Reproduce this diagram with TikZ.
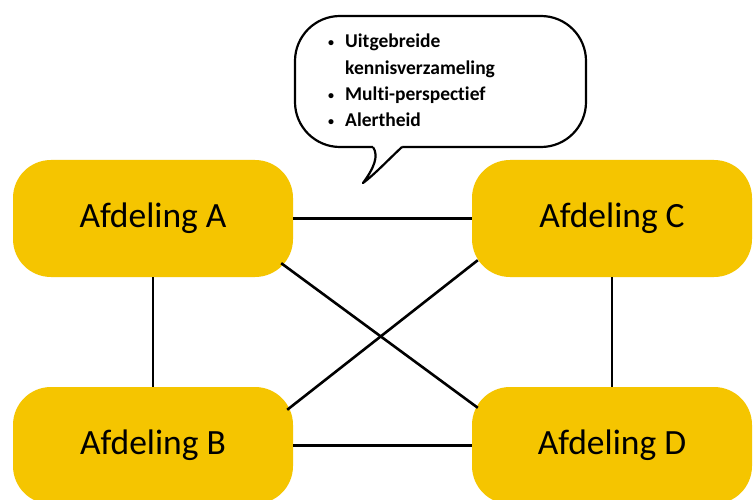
\documentclass[tikz,border=0pt]{standalone}
\usepackage{fontspec}
\setmainfont[Ligatures=CommonOff]{Carlito}
\usetikzlibrary{calc}
\definecolor{deptyellow}{RGB}{245,197,0}
\tikzset{
  dept/.style={rectangle, rounded corners=38pt, fill=deptyellow,
    minimum width=280pt, minimum height=117pt, inner sep=0pt,
    font=\fontsize{35.5pt}{40pt}\selectfont, text=black},
  link/.style={line width=2.6pt, black},
  bubble/.style={line width=2.2pt, black, line join=round},
  bubbletext/.style={font=\fontsize{19.5pt}{23pt}\selectfont\bfseries,
    inner sep=0pt, anchor=base west},
  bullet/.style={font=\fontsize{12pt}{23pt}\selectfont\bfseries,
    inner sep=0pt, anchor=base}
}
\begin{document}
\begin{tikzpicture}[x=1pt, y=-1pt]
  \clip (0,0) rectangle (755,500);
  \fill[white] (0,0) rectangle (755,500);

  % departments
  \node[dept] (A) at (153,218.5) {Afdeling A};
  \node[dept] (B) at (153,445.5) {Afdeling B};
  \node[dept] (C) at (612,218.5) {Afdeling C};
  \node[dept] (D) at (612,445.5) {Afdeling D};

  % links between departments
  \draw[link] (A.east) -- (C.west);
  \draw[link] (B.east) -- (D.west);
  \draw[link] (A.south) -- (B.north);
  \draw[link] (C.south) -- (D.north);
  \coordinate (ad1) at ($(A.south east)+(-12,-14)$);
  \coordinate (ad2) at ($(D.north west)+(6,21)$);
  \coordinate (bc1) at ($(B.north east)+(-6,23)$);
  \coordinate (bc2) at ($(C.south west)+(6,-17)$);
  \draw[link] (ad1) -- (ad2);
  \draw[link] (bc1) -- (bc2);

  % speech bubble: rounded body, then the tail cut into its lower edge
  \draw[bubble, fill=white, rounded corners=45pt] (295,16) rectangle (586,147);
  \fill[white] (373,147) .. controls (379,156) and (374,168) .. (363,183)
    .. controls (375,174) and (388,160) .. (402,147) -- (402,144)
    -- (373,144) -- cycle;
  \draw[bubble] (402,147)
    .. controls (388,160) and (375,174) .. (363,183)
    .. controls (374,168) and (379,156) .. (373,147);

  \node[bullet] (b1) at (331,47) {•};
  \node[bullet] (b3) at (331,100) {•};
  \node[bullet] (b4) at (331,126) {•};
  \node[bubbletext] (l1) at (345,48) {Uitgebreide};
  \node[bubbletext] (l2) at (345,75) {kennisverzameling};
  \node[bubbletext] (l3) at (345,101) {Multi-perspectief};
  \node[bubbletext] (l4) at (345,127) {Alertheid};
\end{tikzpicture}
\end{document}
